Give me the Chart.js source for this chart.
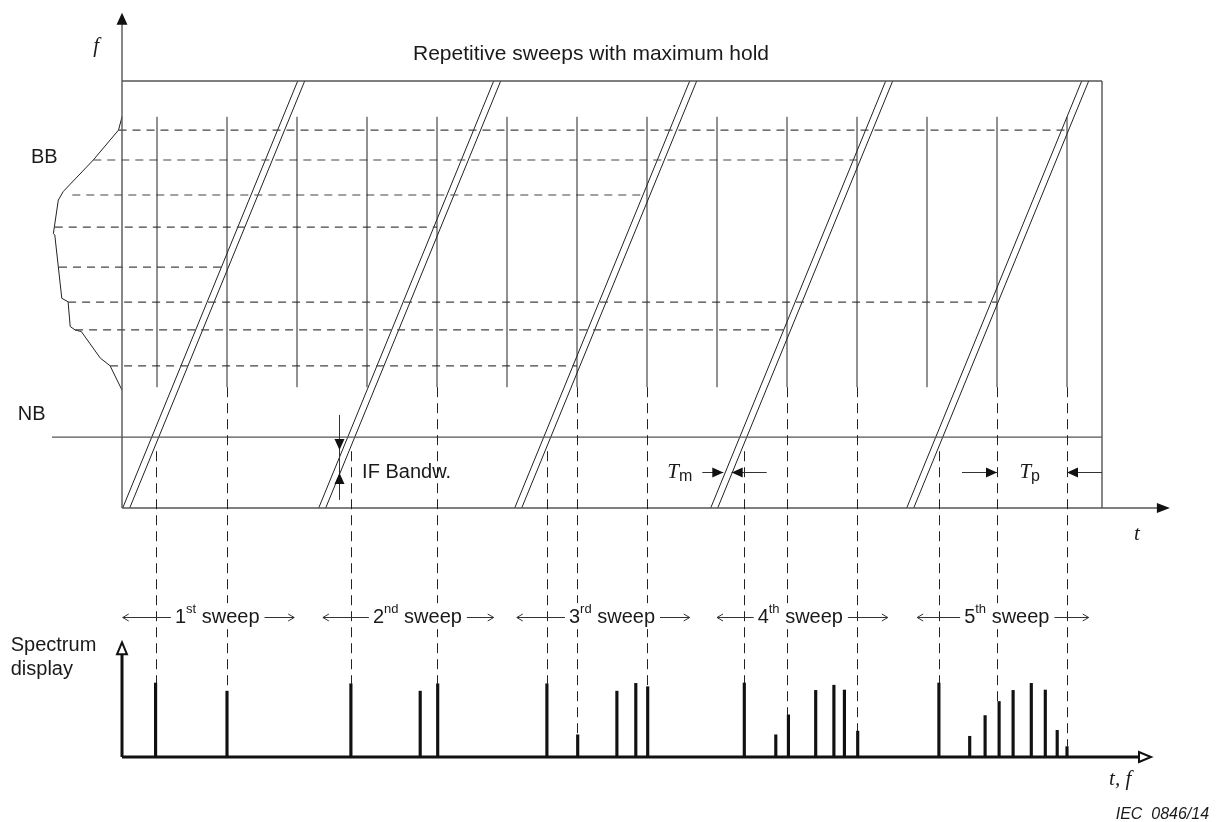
<!DOCTYPE html>
<html>
<head>
<meta charset="utf-8">
<script src="https://cdn.jsdelivr.net/npm/chart.js@4.4.1/dist/chart.umd.min.js"></script>
<style>
html, body { margin: 0; padding: 0; background: #fff; }
#wrap { width: 1219px; height: 822px; position: relative; }
</style>
</head>
<body>
<div id="wrap"><canvas id="diagram"></canvas></div>
<script>
// units: t in pulse periods, f in box units (box = 0..10), spectrum amplitude 0..10

// pulses (vertical lines in the t/f plane)
const pulseTimes = [0.5, 1.5, 2.5, 3.5, 4.5, 5.5, 6.5, 7.5, 8.5, 9.5, 10.5, 11.5, 12.5, 13.5];
const pulseTopF = 9.16;
const pulseBottomF = 2.83;

// frequency levels of the pulse spectrum lines, and where each dashed line stops
const levelF = [8.85, 8.15, 7.33, 6.58, 5.64, 4.82, 4.17, 3.33];
const levelStartT = [-0.05, -0.41, -0.71, -0.96, -0.9, -0.77, -0.67, -0.17];
const levelEndT = [13.5, 10.5, 7.5, 4.5, 1.5, 12.5, 9.5, 6.5];

// broadband envelope on the left
const bbT = [0, -0.05, -0.41, -0.84, -0.91, -0.98, -0.96, -0.86, -0.77, -0.74, -0.67, -0.58, -0.31, -0.17, 0];
const bbF = [9.16, 8.85, 8.15, 7.41, 7.21, 6.43, 6.39, 4.91, 4.83, 4.25, 4.17, 4.13, 3.51, 3.33, 2.76];

// narrowband level
const nbF = 1.66;

// sweeps (double line = IF bandwidth)
const sweepStartT = [0.01, 2.81, 5.61, 8.41, 11.21];
const sweepEndT = [2.51, 5.31, 8.11, 10.91, 13.71];
const ifWidthT = 0.1;
const sweepNum = ['1', '2', '3', '4', '5'];
const sweepSup = ['st', 'nd', 'rd', 'th', 'th'];
const sweepArrowLeftT = [0.01, 2.87, 5.64, 8.5, 11.36];
const sweepArrowRightT = [2.46, 5.31, 8.11, 10.94, 13.81];
const sweepLabelT = [1.36, 4.22, 7.0, 9.69, 12.64];

// spectrum display (maximum hold)
const specT = [0.48, 1.5, 3.27, 4.26, 4.51, 6.07, 6.51, 7.07, 7.34, 7.51, 8.89, 9.34, 9.52, 9.91, 10.17, 10.32, 10.51,
               11.67, 12.11, 12.33, 12.53, 12.73, 12.99, 13.19, 13.36, 13.5];
const specAmp = [10, 8.9, 9.9, 8.9, 9.9, 9.9, 3.0, 8.9, 9.95, 9.5, 10, 3.0, 5.7, 9.0, 9.7, 9.05, 3.5,
                 10, 2.8, 5.6, 7.5, 9.0, 9.95, 9.05, 3.6, 1.4];

// dashed links from the t/f plane down to the display
const linkT = [0.48, 1.5, 3.27, 4.5, 6.07, 6.5, 7.5, 8.89, 9.5, 10.5, 11.67, 12.5, 13.5];
const linkFromF = [1.33, 2.83, 1.33, 2.83, 1.33, 2.83, 2.83, 1.33, 2.83, 2.83, 1.33, 2.83, 2.83];
const linkToAmp = [10, 8.9, 9.9, 9.9, 9.9, 3.0, 9.5, 10, 5.7, 3.5, 10, 7.5, 1.4];

// page frame: where the scales sit on the 1219x822 canvas
const W = 1219, H = 822;
const tOrigin = 122, tPx = 70;
const fOrigin = 508, fPx = 42.7;
const aOrigin = 757, aPx = 7.4;

const SANS = '"Liberation Sans", Arial, sans-serif';
const SERIF = '"Liberation Serif", "Times New Roman", serif';

function segs(list) {
    const out = [];
    list.forEach(s => {
        s.forEach(p => out.push({x: p[0], y: p[1]}));
        out.push({x: null, y: null});
    });
    return out;
}

function lineSet(data, color, width, dash, axis) {
    return {
        type: 'scatter',
        data: data,
        showLine: true,
        spanGaps: false,
        pointRadius: 0,
        borderColor: color,
        borderWidth: width,
        borderDash: dash || [],
        tension: 0,
        yAxisID: axis || 'y'
    };
}

// box, axes and NB line
const frameLines = segs([
    [[0, 0], [14.85, 0]],
    [[0, 0], [0, 11.5]],
    [[0, 10], [14, 10]],
    [[14, 0], [14, 10]],
    [[-1.0, nbF], [14, nbF]]
]);

const pulseLines = segs(pulseTimes.map(t => [[t, pulseBottomF], [t, pulseTopF]]));
const levelLines = segs(levelF.map((f, i) => [[levelStartT[i], f], [levelEndT[i], f]]));
const sweepLines = segs(sweepStartT.flatMap((s, i) => [
    [[s, 0], [sweepEndT[i], 10]],
    [[s + ifWidthT, 0], [sweepEndT[i] + ifWidthT, 10]]
]));
const bbLine = bbT.map((t, i) => ({x: t, y: bbF[i]}));
const specAxes = segs([
    [[0, 0], [14.6, 0]],
    [[0, 0], [0, 15.3]]
]);

function head(ctx, x, y, dx, dy, len, half, style) {
    const bx = x - dx * len, by = y - dy * len;
    const px = -dy * half, py = dx * half;
    ctx.beginPath();
    ctx.moveTo(bx + px, by + py);
    ctx.lineTo(x, y);
    ctx.lineTo(bx - px, by - py);
    if (style === 'chevron') { ctx.stroke(); return; }
    ctx.closePath();
    if (style === 'open') {
        ctx.fillStyle = '#fff';
        ctx.fill();
        ctx.stroke();
    } else {
        ctx.fill();
    }
}

function text(ctx, str, x, y, font, align) {
    ctx.font = font;
    ctx.textAlign = align || 'left';
    ctx.textBaseline = 'middle';
    ctx.fillText(str, x, y);
    return ctx.measureText(str).width;
}

// texts, arrowheads and the dashed links
const drawExtras = {
    id: 'drawExtras',
    afterDatasetsDraw(chart) {
        const {ctx, scales} = chart;
        const X = v => scales.x.getPixelForValue(v);
        const F = v => scales.y.getPixelForValue(v);
        const A = v => scales.amp.getPixelForValue(v);
        ctx.save();

        // links
        ctx.strokeStyle = '#222';
        ctx.lineWidth = 1;
        ctx.setLineDash([10, 6]);
        linkT.forEach((t, i) => {
            ctx.beginPath();
            ctx.moveTo(Math.round(X(t)) + 0.5, F(linkFromF[i]));
            ctx.lineTo(Math.round(X(t)) + 0.5, A(linkToAmp[i]));
            ctx.stroke();
        });
        ctx.setLineDash([]);

        // axis arrows of the t/f plane
        ctx.fillStyle = '#111';
        head(ctx, X(0), F(11.6), 0, -1, 12, 5.5, 'fill');
        head(ctx, X(14.97), F(0), 1, 0, 13, 5, 'fill');

        // spectrum axis arrows
        ctx.strokeStyle = '#111';
        ctx.lineWidth = 2;
        head(ctx, X(0), A(15.5), 0, -1, 12, 5, 'open');
        head(ctx, X(14.7), A(0), 1, 0, 12, 5, 'open');

        ctx.fillStyle = '#1a1a1a';
        text(ctx, 'Repetitive sweeps with maximum hold', X(6.7), F(10.63), '21px ' + SANS, 'center');
        text(ctx, 'BB', X(-1.3), F(8.22), '20px ' + SANS);
        text(ctx, 'NB', X(-1.49), F(2.18), '20px ' + SANS);
        text(ctx, 'f', X(-0.37), F(10.8), 'italic 21px ' + SERIF, 'center');
        text(ctx, 't', X(14.5), F(-0.63), 'italic 21px ' + SERIF, 'center');
        text(ctx, 'IF Bandw.', X(3.43), F(0.84), '20px ' + SANS);

        // T_m and T_p
        let w = text(ctx, 'T', X(7.79), F(0.84), 'italic 21px ' + SERIF);
        text(ctx, 'm', X(7.79) + w, F(0.84) + 4, '16px ' + SANS);
        w = text(ctx, 'T', X(12.82), F(0.84), 'italic 21px ' + SERIF);
        text(ctx, 'p', X(12.82) + w, F(0.84) + 4, '16px ' + SANS);

        text(ctx, 'Spectrum', X(-1.59), A(15.1), '20px ' + SANS);
        text(ctx, 'display', X(-1.59), A(11.8), '20px ' + SANS);
        text(ctx, 't, f', X(14.26), A(-3.1), 'italic 21px ' + SERIF, 'center');
        text(ctx, 'IEC  0846/14', X(15.53), A(-7.84), 'italic 16px ' + SANS, 'right');

        // dimension arrows
        ctx.strokeStyle = '#333';
        ctx.fillStyle = '#111';
        ctx.lineWidth = 1;
        const yTm = Math.round(F(0.84)) + 0.5;
        ctx.beginPath();
        ctx.moveTo(X(8.29), yTm); ctx.lineTo(X(8.59), yTm);
        ctx.moveTo(X(8.71), yTm); ctx.lineTo(X(9.21), yTm);
        ctx.moveTo(X(12.0), yTm); ctx.lineTo(X(12.5), yTm);
        ctx.moveTo(X(13.5), yTm); ctx.lineTo(X(14.0), yTm);
        ctx.stroke();
        head(ctx, X(8.59), yTm, 1, 0, 11, 5, 'fill');
        head(ctx, X(8.71), yTm, -1, 0, 11, 5, 'fill');
        head(ctx, X(12.5), yTm, 1, 0, 11, 5, 'fill');
        head(ctx, X(13.5), yTm, -1, 0, 11, 5, 'fill');

        // IF bandwidth
        const xIf = Math.round(X(3.1)) + 0.5;
        ctx.beginPath();
        ctx.moveTo(xIf, F(2.18)); ctx.lineTo(xIf, F(0.19));
        ctx.stroke();
        head(ctx, xIf, F(1.36), 0, 1, 11, 5, 'fill');
        head(ctx, xIf, F(0.82), 0, -1, 11, 5, 'fill');

        // sweep labels, text masks the dashed links behind it
        ctx.strokeStyle = '#333';
        ctx.lineWidth = 1;
        const yS = A(18.9);
        sweepNum.forEach((n, i) => {
            const cx = X(sweepLabelT[i]);
            ctx.font = '20px ' + SANS;
            const w1 = ctx.measureText(n).width;
            const w3 = ctx.measureText(' sweep').width;
            ctx.font = '13px ' + SANS;
            const w2 = ctx.measureText(sweepSup[i]).width;
            const left = cx - (w1 + w2 + w3) / 2;
            const right = left + w1 + w2 + w3;
            ctx.fillStyle = '#fff';
            ctx.fillRect(left - 1, yS - 14, right - left + 2, 26);
            ctx.fillStyle = '#1a1a1a';
            text(ctx, n, left, yS, '20px ' + SANS);
            text(ctx, sweepSup[i], left + w1, yS - 8, '13px ' + SANS);
            text(ctx, ' sweep', left + w1 + w2, yS, '20px ' + SANS);
            const yl = Math.round(yS) + 0.5;
            ctx.beginPath();
            ctx.moveTo(X(sweepArrowLeftT[i]), yl); ctx.lineTo(left - 4, yl);
            ctx.moveTo(right + 5, yl); ctx.lineTo(X(sweepArrowRightT[i]), yl);
            ctx.stroke();
            head(ctx, X(sweepArrowLeftT[i]), yl, -1, 0, 6, 3.5, 'chevron');
            head(ctx, X(sweepArrowRightT[i]), yl, 1, 0, 6, 3.5, 'chevron');
        });

        ctx.restore();
    }
};

new Chart(document.getElementById('diagram'), {
    type: 'scatter',
    data: {
        datasets: [
            lineSet(frameLines, '#555', 1.4),
            lineSet(pulseLines, '#222', 1),
            lineSet(levelLines, '#444', 1.2, [8, 6]),
            lineSet(sweepLines, '#222', 1),
            lineSet(bbLine, '#222', 1),
            lineSet(specAxes, '#111', 3, null, 'amp'),
            {
                type: 'bar',
                data: specT.map((t, i) => ({x: t, y: specAmp[i]})),
                backgroundColor: '#111',
                barThickness: 2.5,
                yAxisID: 'amp'
            }
        ]
    },
    options: {
        responsive: true,
        maintainAspectRatio: false,
        animation: false,
        events: [],
        layout: { padding: 0 },
        plugins: { legend: { display: false }, tooltip: { enabled: false } },
        scales: {
            x: { type: 'linear', display: false, offset: false,
                 min: -tOrigin / tPx, max: (W - tOrigin) / tPx },
            y: { type: 'linear', display: false,
                 min: -(H - fOrigin) / fPx, max: fOrigin / fPx },
            amp: { type: 'linear', display: false,
                   min: -(H - aOrigin) / aPx, max: aOrigin / aPx }
        }
    },
    plugins: [drawExtras]
});
</script>
</body>
</html>
